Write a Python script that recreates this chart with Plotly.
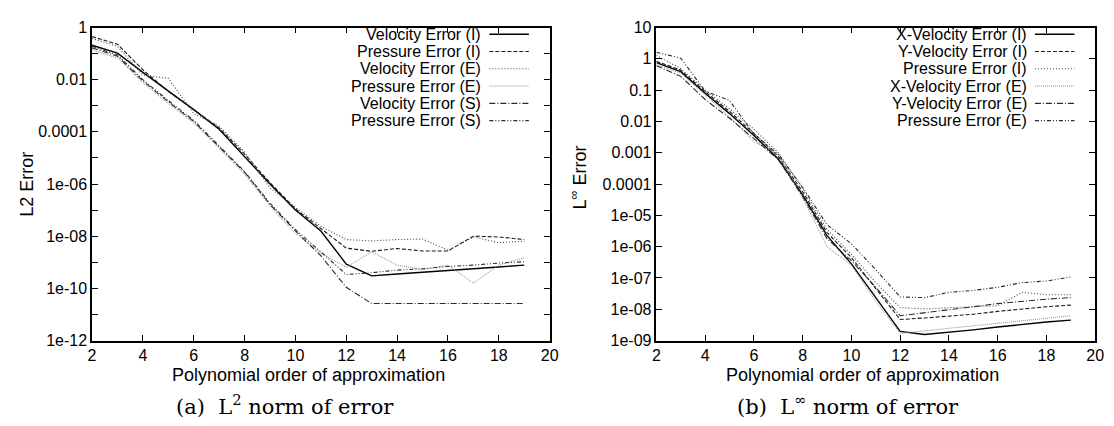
import numpy as np
import plotly.graph_objects as go

W, H = 1114, 426

# Polynomial orders
orders = list(range(2, 20))

# ---- (a) L2 norm of error : log10(error) ----
l2_names = ["Velocity Error (I)", "Pressure Error (I)", "Velocity Error (E)",
            "Pressure Error (E)", "Velocity Error (S)", "Pressure Error (S)"]
l2_vel_I = [-0.68, -0.98, -1.72, -2.42, -3.15, -3.90, -4.95, -6.00, -7.00, -7.80, -9.07, -9.52, -9.45, -9.39, -9.32, -9.25, -9.18, -9.11]
l2_pre_I = [-0.35, -0.64, -1.62, -2.45, -3.15, -3.85, -4.85, -5.95, -6.95, -7.70, -8.46, -8.58, -8.47, -8.57, -8.57, -8.00, -8.03, -8.13]
l2_vel_E = [-0.42, -0.72, -1.82, -1.95, -3.30, -3.78, -4.78, -6.15, -6.90, -7.62, -8.13, -8.18, -8.13, -8.11, -8.54, -8.03, -8.25, -8.19]
l2_pre_E = [-0.86, -1.17, -2.12, -2.92, -3.66, -4.65, -5.62, -6.85, -7.90, -8.65, -9.19, -8.60, -9.11, -9.28, -9.11, -9.80, -9.11, -8.83]
l2_vel_S = [-0.78, -1.10, -2.05, -2.85, -3.60, -4.58, -5.55, -6.78, -7.80, -8.75, -9.96, -10.58, -10.58, -10.58, -10.58, -10.58, -10.58, -10.58]
l2_pre_S = [-0.72, -1.05, -2.00, -2.80, -3.56, -4.55, -5.52, -6.74, -7.75, -8.60, -9.47, -9.40, -9.30, -9.25, -9.16, -9.11, -9.03, -8.98]
l2_series = [l2_vel_I, l2_pre_I, l2_vel_E, l2_pre_E, l2_vel_S, l2_pre_S]

# ---- (b) L-infinity norm of error : log10(error) ----
li_names = ["X-Velocity Error (I)", "Y-Velocity Error (I)", "Pressure Error (I)",
            "X-Velocity Error (E)", "Y-Velocity Error (E)", "Pressure Error (E)"]
li_xvel_I = [-0.12, -0.41, -1.10, -1.75, -2.45, -3.20, -4.35, -5.65, -6.55, -7.65, -8.71, -8.81, -8.74, -8.66, -8.57, -8.48, -8.41, -8.35]
li_yvel_I = [-0.08, -0.36, -1.05, -1.68, -2.38, -3.12, -4.25, -5.55, -6.35, -7.35, -8.33, -8.28, -8.23, -8.16, -8.07, -7.99, -7.92, -7.87]
li_pre_I = [0.11, -0.31, -1.00, -1.60, -2.25, -3.00, -4.15, -5.45, -6.25, -7.15, -7.95, -7.99, -7.95, -7.92, -7.89, -7.46, -7.54, -7.54]
li_xvel_E = [-0.18, -0.46, -1.15, -1.85, -2.65, -3.05, -4.45, -6.00, -6.60, -7.75, -8.77, -8.69, -8.61, -8.51, -8.43, -8.36, -8.28, -8.21]
li_yvel_E = [-0.22, -0.56, -1.30, -1.90, -2.55, -3.22, -4.40, -5.75, -6.45, -7.30, -8.21, -8.12, -8.02, -7.92, -7.82, -7.74, -7.68, -7.63]
li_pre_E = [0.21, 0.02, -1.03, -1.33, -2.40, -3.05, -4.11, -5.30, -5.91, -6.74, -7.61, -7.63, -7.46, -7.40, -7.30, -7.15, -7.10, -6.97]
li_series = [li_xvel_I, li_yvel_I, li_pre_I, li_xvel_E, li_yvel_E, li_pre_E]

# tick labels
l2_tickvals = [1, 1e-2, 1e-4, 1e-6, 1e-8, 1e-10, 1e-12]
l2_ticktext = ["1", "0.01", "0.0001", "1e-06", "1e-08", "1e-10", "1e-12"]
l2_minorvals = [1e-1, 1e-3, 1e-5, 1e-7, 1e-9, 1e-11]
li_tickvals = [10, 1, 1e-1, 1e-2, 1e-3, 1e-4, 1e-5, 1e-6, 1e-7, 1e-8, 1e-9]
li_ticktext = ["10", "1", "0.1", "0.01", "0.001", "0.0001", "1e-05", "1e-06", "1e-07", "1e-08", "1e-09"]

# line styles (gnuplot-like monochrome)
styles = [
    dict(color="#000000", width=1.4, dash="solid"),
    dict(color="#1a1a1a", width=1.1, dash="4px,2px"),
    dict(color="#444444", width=1.1, dash="1px,2px"),
    dict(color="#8a8a8a", width=1.0, dash="1px,1px"),
    dict(color="#2a2a2a", width=1.1, dash="6px,2px,1px,2px"),
    dict(color="#2a2a2a", width=1.1, dash="4px,2px,1px,2px,1px,2px"),
]

def X(px):
    return px / W

def Y(py):
    return 1 - py / H

# plot-area geometry (pixels)
L_X0, L_X1 = 81, 544
R_X0, R_X1 = 652, 1096
Y_TOP, Y_BOT = 12, 338

fig = go.Figure()
for vals, name, st in zip(l2_series, l2_names, styles):
    fig.add_trace(go.Scatter(x=orders, y=10.0 ** np.array(vals), mode="lines", name=name,
                             line=st, xaxis="x", yaxis="y", showlegend=False))
for vals, name, st in zip(li_series, li_names, styles):
    fig.add_trace(go.Scatter(x=orders, y=10.0 ** np.array(vals), mode="lines", name=name,
                             line=st, xaxis="x2", yaxis="y2", showlegend=False))

TICKF = dict(family="Liberation Sans, Arial, sans-serif", size=16, color="black")
xcommon = dict(range=[2, 20], dtick=2, tick0=2, ticks="inside", ticklen=6, mirror="allticks",
               showline=True, linecolor="black", linewidth=1.5, tickcolor="black",
               showgrid=False, zeroline=False, tickfont=TICKF)
ycommon = dict(type="log", ticks="inside", ticklen=6, mirror="allticks", showline=True,
               linecolor="black", linewidth=1.5, tickcolor="black", showgrid=False,
               zeroline=False, tickfont=TICKF, tickmode="array")

ydom = [Y(Y_BOT), Y(Y_TOP)]
fig.update_layout(
    width=W, height=H, margin=dict(l=0, r=0, t=0, b=0),
    paper_bgcolor="white", plot_bgcolor="white", showlegend=False,
    xaxis=dict(domain=[X(L_X0), X(L_X1)], anchor="y", **xcommon),
    yaxis=dict(domain=ydom, anchor="x", range=[-12, 0], tickvals=l2_tickvals,
               ticktext=l2_ticktext,
               minor=dict(tickmode="array", tickvals=l2_minorvals, ticks="inside", ticklen=6,
                          tickcolor="black", showgrid=False),
               **ycommon),
    xaxis2=dict(domain=[X(R_X0), X(R_X1)], anchor="y2", **xcommon),
    yaxis2=dict(domain=ydom, anchor="x2", range=[-9, 1], tickvals=li_tickvals,
                ticktext=li_ticktext, **ycommon),
)

LEGF = dict(family="Liberation Sans, Arial, sans-serif", size=16, color="black")
annotations = []
shapes = []
row_y = [19, 37, 55, 73, 91, 109]
for names, border in [(l2_names, L_X1), (li_names, R_X1)]:
    text_right, s0, s1 = border - 67, border - 61, border - 21
    for i, name in enumerate(names):
        annotations.append(dict(x=X(text_right), y=Y(row_y[i]), xref="paper", yref="paper",
                                text=name, showarrow=False, xanchor="right", yanchor="middle",
                                font=LEGF))
        st = styles[i]
        shapes.append(dict(type="line", xref="paper", yref="paper", x0=X(s0), x1=X(s1),
                           y0=Y(row_y[i]), y1=Y(row_y[i]),
                           line=dict(color=st["color"], width=st["width"], dash=st["dash"])))

TITLEF = dict(family="Liberation Sans, Arial, sans-serif", size=18, color="black")
annotations += [
    dict(x=X(300), y=Y(374), xref="paper", yref="paper", text="Polynomial order of approximation",
         showarrow=False, font=TITLEF, xanchor="center", yanchor="middle"),
    dict(x=X(861), y=Y(374), xref="paper", yref="paper", text="Polynomial order of approximation",
         showarrow=False, font=TITLEF, xanchor="center", yanchor="middle"),
    dict(x=X(15), y=Y(175), xref="paper", yref="paper", text="L2 Error", textangle=-90,
         showarrow=False, font=TITLEF, xanchor="center", yanchor="middle"),
    dict(x=X(573), y=Y(168), xref="paper", yref="paper", text="L<sup>∞</sup> Error", textangle=-90,
         showarrow=False, font=TITLEF, xanchor="center", yanchor="middle"),
]
CAPF = dict(family="DejaVu Serif, Liberation Serif, serif", size=21, color="black")
annotations += [
    dict(x=X(276), y=Y(405), xref="paper", yref="paper", text="(a)  L<sup>2</sup> norm of error",
         showarrow=False, font=CAPF, xanchor="center", yanchor="middle"),
    dict(x=X(846), y=Y(405), xref="paper", yref="paper", text="(b)  L<sup>∞</sup> norm of error",
         showarrow=False, font=CAPF, xanchor="center", yanchor="middle"),
]
fig.update_layout(annotations=annotations, shapes=shapes)

fig.write_html("out.html")
